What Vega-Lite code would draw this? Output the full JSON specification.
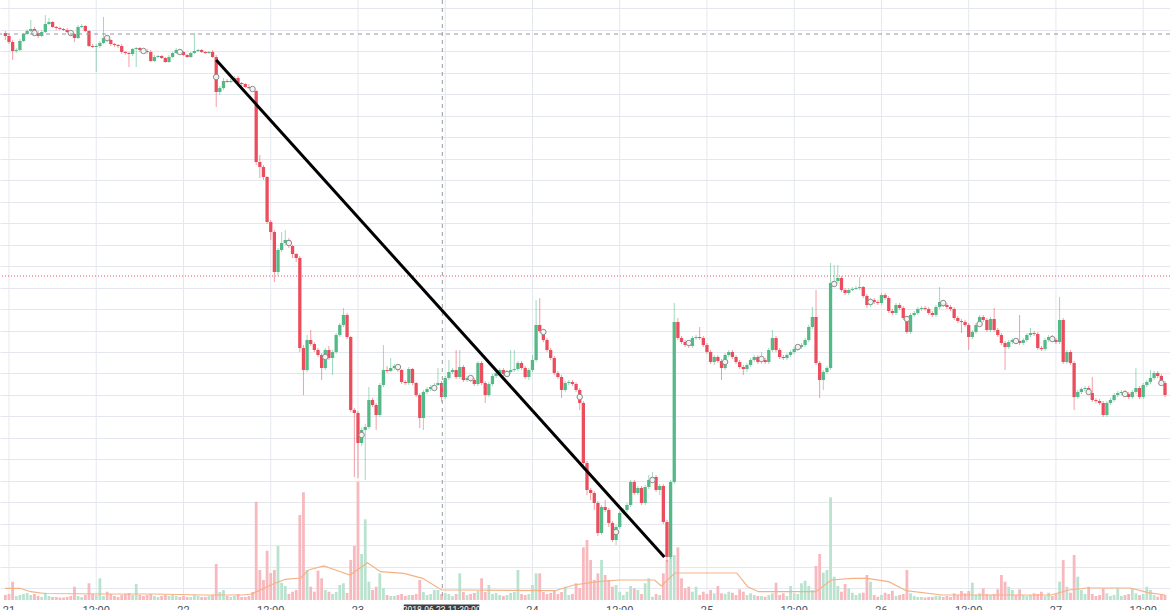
{
  "$schema": "https://vega.github.io/schema/vega-lite/v6.json",
  "width": 1170,
  "height": 600,
  "autosize": {"type": "none"},
  "padding": {"left": 0, "top": 0, "right": 0, "bottom": 10},
  "background": "#ffffff",
  "config": {"view": {"stroke": null}, "font": "Roboto"},
  "datasets": {
    "candles": [
      {"t":-0.5,"o":6934,"h":6938,"l":6920,"c":6928,"v":50},
      {"t":0,"o":6928,"h":6932,"l":6912,"c":6916,"v":60},
      {"t":0.5,"o":6916,"h":6920,"l":6880,"c":6898,"v":183},
      {"t":1,"o":6898,"h":6904,"l":6894,"c":6900,"v":40},
      {"t":1.5,"o":6900,"h":6922,"l":6898,"c":6918,"v":50},
      {"t":2,"o":6918,"h":6934,"l":6916,"c":6932,"v":60},
      {"t":2.5,"o":6932,"h":6942,"l":6930,"c":6938,"v":70},
      {"t":3,"o":6938,"h":6960,"l":6936,"c":6942,"v":50},
      {"t":3.5,"o":6942,"h":6946,"l":6930,"c":6934,"v":60},
      {"t":4,"o":6934,"h":6938,"l":6924,"c":6928,"v":40},
      {"t":4.5,"o":6928,"h":6940,"l":6926,"c":6936,"v":30},
      {"t":5,"o":6936,"h":6970,"l":6934,"c":6952,"v":73},
      {"t":5.5,"o":6952,"h":6964,"l":6950,"c":6956,"v":40},
      {"t":6,"o":6956,"h":6958,"l":6944,"c":6946,"v":30},
      {"t":6.5,"o":6946,"h":6948,"l":6940,"c":6944,"v":30},
      {"t":7,"o":6944,"h":6946,"l":6940,"c":6942,"v":25},
      {"t":7.5,"o":6942,"h":6944,"l":6938,"c":6940,"v":25},
      {"t":8,"o":6940,"h":6944,"l":6934,"c":6936,"v":30},
      {"t":8.5,"o":6936,"h":6938,"l":6928,"c":6932,"v":40},
      {"t":9,"o":6932,"h":6934,"l":6916,"c":6924,"v":133},
      {"t":9.5,"o":6924,"h":6950,"l":6922,"c":6946,"v":40},
      {"t":10,"o":6946,"h":6952,"l":6944,"c":6948,"v":30},
      {"t":10.5,"o":6948,"h":6950,"l":6936,"c":6938,"v":50},
      {"t":11,"o":6938,"h":6940,"l":6906,"c":6908,"v":167},
      {"t":11.5,"o":6908,"h":6912,"l":6904,"c":6906,"v":60},
      {"t":12,"o":6906,"h":6912,"l":6856,"c":6908,"v":50},
      {"t":12.5,"o":6908,"h":6918,"l":6904,"c":6914,"v":217},
      {"t":13,"o":6914,"h":6966,"l":6912,"c":6924,"v":40},
      {"t":13.5,"o":6924,"h":6928,"l":6916,"c":6920,"v":83},
      {"t":14,"o":6920,"h":6922,"l":6908,"c":6912,"v":60},
      {"t":14.5,"o":6912,"h":6914,"l":6906,"c":6910,"v":40},
      {"t":15,"o":6910,"h":6912,"l":6904,"c":6908,"v":30},
      {"t":15.5,"o":6908,"h":6912,"l":6892,"c":6896,"v":50},
      {"t":16,"o":6896,"h":6898,"l":6890,"c":6894,"v":60},
      {"t":16.5,"o":6894,"h":6896,"l":6866,"c":6892,"v":70},
      {"t":17,"o":6892,"h":6904,"l":6888,"c":6902,"v":50},
      {"t":17.5,"o":6902,"h":6906,"l":6866,"c":6904,"v":160},
      {"t":18,"o":6904,"h":6906,"l":6896,"c":6900,"v":50},
      {"t":18.5,"o":6900,"h":6902,"l":6896,"c":6898,"v":40},
      {"t":19,"o":6898,"h":6902,"l":6892,"c":6896,"v":50},
      {"t":19.5,"o":6896,"h":6900,"l":6876,"c":6878,"v":60},
      {"t":20,"o":6878,"h":6890,"l":6876,"c":6886,"v":40},
      {"t":20.5,"o":6886,"h":6890,"l":6884,"c":6888,"v":30},
      {"t":21,"o":6888,"h":6890,"l":6882,"c":6884,"v":40},
      {"t":21.5,"o":6884,"h":6886,"l":6874,"c":6876,"v":50},
      {"t":22,"o":6876,"h":6890,"l":6874,"c":6886,"v":40},
      {"t":22.5,"o":6886,"h":6896,"l":6884,"c":6894,"v":50},
      {"t":23,"o":6894,"h":6904,"l":6892,"c":6900,"v":40},
      {"t":23.5,"o":6900,"h":6902,"l":6894,"c":6896,"v":30},
      {"t":24,"o":6896,"h":6898,"l":6888,"c":6890,"v":40},
      {"t":24.5,"o":6890,"h":6892,"l":6884,"c":6886,"v":30},
      {"t":25,"o":6886,"h":6896,"l":6884,"c":6894,"v":30},
      {"t":25.5,"o":6894,"h":6934,"l":6892,"c":6898,"v":50},
      {"t":26,"o":6898,"h":6902,"l":6896,"c":6900,"v":40},
      {"t":26.5,"o":6900,"h":6902,"l":6894,"c":6896,"v":30},
      {"t":27,"o":6896,"h":6898,"l":6892,"c":6894,"v":30},
      {"t":27.5,"o":6894,"h":6898,"l":6892,"c":6896,"v":40},
      {"t":28,"o":6896,"h":6900,"l":6884,"c":6886,"v":50},
      {"t":28.5,"o":6886,"h":6890,"l":6786,"c":6816,"v":360},
      {"t":29,"o":6816,"h":6828,"l":6810,"c":6824,"v":80},
      {"t":29.5,"o":6824,"h":6844,"l":6820,"c":6838,"v":100},
      {"t":30,"o":6838,"h":6842,"l":6834,"c":6836,"v":40},
      {"t":30.5,"o":6836,"h":6842,"l":6834,"c":6838,"v":30},
      {"t":31,"o":6838,"h":6848,"l":6836,"c":6844,"v":40},
      {"t":31.5,"o":6844,"h":6848,"l":6832,"c":6834,"v":60},
      {"t":32,"o":6834,"h":6836,"l":6828,"c":6832,"v":30},
      {"t":32.5,"o":6832,"h":6834,"l":6824,"c":6826,"v":30},
      {"t":33,"o":6826,"h":6832,"l":6822,"c":6824,"v":40},
      {"t":33.5,"o":6824,"h":6826,"l":6816,"c":6818,"v":80},
      {"t":34,"o":6818,"h":6820,"l":6670,"c":6676,"v":983},
      {"t":34.5,"o":6676,"h":6690,"l":6644,"c":6666,"v":300},
      {"t":35,"o":6666,"h":6670,"l":6640,"c":6646,"v":200},
      {"t":35.5,"o":6646,"h":6648,"l":6552,"c":6556,"v":493},
      {"t":36,"o":6556,"h":6560,"l":6520,"c":6536,"v":270},
      {"t":36.5,"o":6536,"h":6540,"l":6436,"c":6456,"v":300},
      {"t":37,"o":6456,"h":6504,"l":6448,"c":6500,"v":540},
      {"t":37.5,"o":6500,"h":6536,"l":6496,"c":6514,"v":173},
      {"t":38,"o":6514,"h":6540,"l":6510,"c":6520,"v":140},
      {"t":38.5,"o":6520,"h":6524,"l":6504,"c":6508,"v":60},
      {"t":39,"o":6508,"h":6510,"l":6484,"c":6492,"v":83},
      {"t":39.5,"o":6492,"h":6494,"l":6476,"c":6484,"v":100},
      {"t":40,"o":6484,"h":6488,"l":6296,"c":6304,"v":850},
      {"t":40.5,"o":6304,"h":6310,"l":6210,"c":6260,"v":1077},
      {"t":41,"o":6260,"h":6330,"l":6256,"c":6320,"v":300},
      {"t":41.5,"o":6320,"h":6340,"l":6308,"c":6312,"v":133},
      {"t":42,"o":6312,"h":6316,"l":6296,"c":6300,"v":83},
      {"t":42.5,"o":6300,"h":6304,"l":6286,"c":6290,"v":293},
      {"t":43,"o":6290,"h":6294,"l":6240,"c":6264,"v":217},
      {"t":43.5,"o":6264,"h":6304,"l":6260,"c":6300,"v":100},
      {"t":44,"o":6300,"h":6308,"l":6280,"c":6284,"v":83},
      {"t":44.5,"o":6284,"h":6300,"l":6250,"c":6296,"v":60},
      {"t":45,"o":6296,"h":6334,"l":6292,"c":6330,"v":80},
      {"t":45.5,"o":6330,"h":6354,"l":6326,"c":6350,"v":150},
      {"t":46,"o":6350,"h":6384,"l":6346,"c":6370,"v":167},
      {"t":46.5,"o":6370,"h":6374,"l":6322,"c":6326,"v":70},
      {"t":47,"o":6326,"h":6328,"l":6176,"c":6180,"v":400},
      {"t":47.5,"o":6180,"h":6184,"l":6046,"c":6174,"v":540},
      {"t":48,"o":6174,"h":6178,"l":6044,"c":6114,"v":1183},
      {"t":48.5,"o":6114,"h":6144,"l":6108,"c":6140,"v":460},
      {"t":49,"o":6140,"h":6152,"l":6040,"c":6146,"v":807},
      {"t":49.5,"o":6146,"h":6226,"l":6142,"c":6200,"v":183},
      {"t":50,"o":6200,"h":6204,"l":6186,"c":6190,"v":100},
      {"t":50.5,"o":6190,"h":6194,"l":6140,"c":6170,"v":133},
      {"t":51,"o":6170,"h":6234,"l":6166,"c":6230,"v":267},
      {"t":51.5,"o":6230,"h":6310,"l":6226,"c":6260,"v":120},
      {"t":52,"o":6260,"h":6268,"l":6254,"c":6258,"v":50},
      {"t":52.5,"o":6258,"h":6284,"l":6256,"c":6264,"v":40},
      {"t":53,"o":6264,"h":6272,"l":6260,"c":6268,"v":40},
      {"t":53.5,"o":6268,"h":6272,"l":6256,"c":6260,"v":50},
      {"t":54,"o":6260,"h":6262,"l":6232,"c":6236,"v":60},
      {"t":54.5,"o":6236,"h":6240,"l":6230,"c":6234,"v":40},
      {"t":55,"o":6234,"h":6266,"l":6230,"c":6262,"v":50},
      {"t":55.5,"o":6262,"h":6264,"l":6230,"c":6234,"v":50},
      {"t":56,"o":6234,"h":6236,"l":6206,"c":6210,"v":60},
      {"t":56.5,"o":6210,"h":6214,"l":6144,"c":6164,"v":200},
      {"t":57,"o":6164,"h":6220,"l":6140,"c":6216,"v":80},
      {"t":57.5,"o":6216,"h":6226,"l":6212,"c":6222,"v":50},
      {"t":58,"o":6222,"h":6230,"l":6218,"c":6226,"v":60},
      {"t":58.5,"o":6226,"h":6234,"l":6222,"c":6230,"v":100},
      {"t":59,"o":6230,"h":6264,"l":6228,"c":6234,"v":100},
      {"t":59.5,"o":6234,"h":6238,"l":6196,"c":6206,"v":60},
      {"t":60,"o":6206,"h":6248,"l":6202,"c":6244,"v":70},
      {"t":60.5,"o":6244,"h":6280,"l":6240,"c":6256,"v":60},
      {"t":61,"o":6256,"h":6264,"l":6252,"c":6260,"v":40},
      {"t":61.5,"o":6260,"h":6300,"l":6242,"c":6246,"v":60},
      {"t":62,"o":6246,"h":6300,"l":6242,"c":6266,"v":267},
      {"t":62.5,"o":6266,"h":6270,"l":6236,"c":6240,"v":80},
      {"t":63,"o":6240,"h":6248,"l":6236,"c":6244,"v":50},
      {"t":63.5,"o":6244,"h":6248,"l":6236,"c":6240,"v":60},
      {"t":64,"o":6240,"h":6244,"l":6228,"c":6232,"v":70},
      {"t":64.5,"o":6232,"h":6278,"l":6228,"c":6274,"v":90},
      {"t":65,"o":6274,"h":6278,"l":6230,"c":6234,"v":217},
      {"t":65.5,"o":6234,"h":6238,"l":6194,"c":6210,"v":80},
      {"t":66,"o":6210,"h":6236,"l":6206,"c":6232,"v":150},
      {"t":66.5,"o":6232,"h":6252,"l":6228,"c":6248,"v":60},
      {"t":67,"o":6248,"h":6258,"l":6244,"c":6254,"v":70},
      {"t":67.5,"o":6254,"h":6264,"l":6250,"c":6260,"v":50},
      {"t":68,"o":6260,"h":6264,"l":6248,"c":6252,"v":40},
      {"t":68.5,"o":6252,"h":6260,"l":6248,"c":6256,"v":50},
      {"t":69,"o":6256,"h":6300,"l":6252,"c":6260,"v":70},
      {"t":69.5,"o":6260,"h":6300,"l":6256,"c":6262,"v":80},
      {"t":70,"o":6262,"h":6278,"l":6258,"c":6274,"v":300},
      {"t":70.5,"o":6274,"h":6278,"l":6260,"c":6264,"v":60},
      {"t":71,"o":6264,"h":6268,"l":6242,"c":6246,"v":50},
      {"t":71.5,"o":6246,"h":6264,"l":6240,"c":6260,"v":60},
      {"t":72,"o":6260,"h":6290,"l":6256,"c":6280,"v":150},
      {"t":72.5,"o":6280,"h":6400,"l":6276,"c":6350,"v":267},
      {"t":73,"o":6350,"h":6404,"l":6334,"c":6338,"v":267},
      {"t":73.5,"o":6338,"h":6342,"l":6316,"c":6320,"v":80},
      {"t":74,"o":6320,"h":6324,"l":6296,"c":6300,"v":60},
      {"t":74.5,"o":6300,"h":6304,"l":6280,"c":6284,"v":70},
      {"t":75,"o":6284,"h":6288,"l":6250,"c":6254,"v":90},
      {"t":75.5,"o":6254,"h":6258,"l":6242,"c":6246,"v":60},
      {"t":76,"o":6246,"h":6250,"l":6204,"c":6220,"v":80},
      {"t":76.5,"o":6220,"h":6238,"l":6216,"c":6234,"v":133},
      {"t":77,"o":6234,"h":6240,"l":6230,"c":6236,"v":50},
      {"t":77.5,"o":6236,"h":6240,"l":6228,"c":6232,"v":60},
      {"t":78,"o":6232,"h":6236,"l":6216,"c":6220,"v":167},
      {"t":78.5,"o":6220,"h":6224,"l":6180,"c":6194,"v":120},
      {"t":79,"o":6194,"h":6198,"l":6060,"c":6074,"v":527},
      {"t":79.5,"o":6074,"h":6078,"l":6010,"c":6020,"v":600},
      {"t":80,"o":6020,"h":6024,"l":6000,"c":6014,"v":400},
      {"t":80.5,"o":6014,"h":6018,"l":5980,"c":5994,"v":200},
      {"t":81,"o":5994,"h":5998,"l":5928,"c":5934,"v":267},
      {"t":81.5,"o":5934,"h":5990,"l":5930,"c":5986,"v":400},
      {"t":82,"o":5986,"h":6000,"l":5976,"c":5980,"v":250},
      {"t":82.5,"o":5980,"h":5984,"l":5946,"c":5954,"v":200},
      {"t":83,"o":5954,"h":5958,"l":5916,"c":5920,"v":133},
      {"t":83.5,"o":5920,"h":5950,"l":5910,"c":5946,"v":150},
      {"t":84,"o":5946,"h":5978,"l":5942,"c":5974,"v":83},
      {"t":84.5,"o":5974,"h":5984,"l":5970,"c":5980,"v":50},
      {"t":85,"o":5980,"h":5994,"l":5976,"c":5990,"v":83},
      {"t":85.5,"o":5990,"h":6040,"l":5986,"c":6036,"v":140},
      {"t":86,"o":6036,"h":6040,"l":6010,"c":6014,"v":117},
      {"t":86.5,"o":6014,"h":6028,"l":6010,"c":6024,"v":100},
      {"t":87,"o":6024,"h":6028,"l":5990,"c":5994,"v":60},
      {"t":87.5,"o":5994,"h":6030,"l":5990,"c":6026,"v":167},
      {"t":88,"o":6026,"h":6050,"l":6022,"c":6040,"v":217},
      {"t":88.5,"o":6040,"h":6056,"l":6036,"c":6046,"v":33},
      {"t":89,"o":6046,"h":6050,"l":6016,"c":6020,"v":60},
      {"t":89.5,"o":6020,"h":6032,"l":6010,"c":6028,"v":50},
      {"t":90,"o":6028,"h":6032,"l":5952,"c":5956,"v":267},
      {"t":90.5,"o":5956,"h":5960,"l":5876,"c":5886,"v":400},
      {"t":91,"o":5886,"h":6040,"l":5882,"c":6036,"v":500},
      {"t":91.5,"o":6036,"h":6394,"l":6032,"c":6356,"v":450},
      {"t":92,"o":6356,"h":6364,"l":6320,"c":6324,"v":527},
      {"t":92.5,"o":6324,"h":6328,"l":6312,"c":6316,"v":217},
      {"t":93,"o":6316,"h":6320,"l":6306,"c":6310,"v":117},
      {"t":93.5,"o":6310,"h":6318,"l":6304,"c":6308,"v":133},
      {"t":94,"o":6308,"h":6328,"l":6304,"c":6324,"v":83},
      {"t":94.5,"o":6324,"h":6330,"l":6320,"c":6326,"v":133},
      {"t":95,"o":6326,"h":6346,"l":6320,"c":6324,"v":50},
      {"t":95.5,"o":6324,"h":6328,"l":6306,"c":6310,"v":83},
      {"t":96,"o":6310,"h":6314,"l":6292,"c":6296,"v":60},
      {"t":96.5,"o":6296,"h":6300,"l":6272,"c":6276,"v":100},
      {"t":97,"o":6276,"h":6290,"l":6270,"c":6286,"v":67},
      {"t":97.5,"o":6286,"h":6290,"l":6274,"c":6278,"v":140},
      {"t":98,"o":6278,"h":6282,"l":6240,"c":6264,"v":67},
      {"t":98.5,"o":6264,"h":6294,"l":6260,"c":6290,"v":60},
      {"t":99,"o":6290,"h":6300,"l":6286,"c":6296,"v":83},
      {"t":99.5,"o":6296,"h":6300,"l":6282,"c":6286,"v":73},
      {"t":100,"o":6286,"h":6290,"l":6272,"c":6276,"v":50},
      {"t":100.5,"o":6276,"h":6280,"l":6262,"c":6266,"v":107},
      {"t":101,"o":6266,"h":6270,"l":6250,"c":6262,"v":83},
      {"t":101.5,"o":6262,"h":6274,"l":6256,"c":6270,"v":50},
      {"t":102,"o":6270,"h":6284,"l":6266,"c":6280,"v":67},
      {"t":102.5,"o":6280,"h":6290,"l":6276,"c":6286,"v":50},
      {"t":103,"o":6286,"h":6290,"l":6272,"c":6276,"v":40},
      {"t":103.5,"o":6276,"h":6296,"l":6272,"c":6280,"v":40},
      {"t":104,"o":6280,"h":6284,"l":6272,"c":6276,"v":33},
      {"t":104.5,"o":6276,"h":6304,"l":6272,"c":6300,"v":50},
      {"t":105,"o":6300,"h":6340,"l":6296,"c":6324,"v":67},
      {"t":105.5,"o":6324,"h":6328,"l":6296,"c":6300,"v":173},
      {"t":106,"o":6300,"h":6304,"l":6282,"c":6286,"v":50},
      {"t":106.5,"o":6286,"h":6290,"l":6280,"c":6284,"v":67},
      {"t":107,"o":6284,"h":6294,"l":6280,"c":6290,"v":40},
      {"t":107.5,"o":6290,"h":6300,"l":6286,"c":6296,"v":140},
      {"t":108,"o":6296,"h":6306,"l":6292,"c":6302,"v":67},
      {"t":108.5,"o":6302,"h":6310,"l":6298,"c":6306,"v":60},
      {"t":109,"o":6306,"h":6314,"l":6302,"c":6310,"v":167},
      {"t":109.5,"o":6310,"h":6324,"l":6306,"c":6320,"v":193},
      {"t":110,"o":6320,"h":6350,"l":6316,"c":6346,"v":140},
      {"t":110.5,"o":6346,"h":6386,"l":6342,"c":6366,"v":100},
      {"t":111,"o":6366,"h":6420,"l":6270,"c":6274,"v":340},
      {"t":111.5,"o":6274,"h":6278,"l":6204,"c":6240,"v":460},
      {"t":112,"o":6240,"h":6260,"l":6220,"c":6256,"v":273},
      {"t":112.5,"o":6256,"h":6268,"l":6252,"c":6264,"v":300},
      {"t":113,"o":6264,"h":6474,"l":6260,"c":6434,"v":1027},
      {"t":113.5,"o":6434,"h":6470,"l":6428,"c":6438,"v":233},
      {"t":114,"o":6438,"h":6470,"l":6434,"c":6444,"v":140},
      {"t":114.5,"o":6444,"h":6448,"l":6416,"c":6420,"v":83},
      {"t":115,"o":6420,"h":6424,"l":6410,"c":6414,"v":160},
      {"t":115.5,"o":6414,"h":6424,"l":6410,"c":6420,"v":117},
      {"t":116,"o":6420,"h":6426,"l":6418,"c":6422,"v":73},
      {"t":116.5,"o":6422,"h":6428,"l":6420,"c":6424,"v":50},
      {"t":117,"o":6424,"h":6446,"l":6420,"c":6426,"v":67},
      {"t":117.5,"o":6426,"h":6428,"l":6404,"c":6408,"v":73},
      {"t":118,"o":6408,"h":6412,"l":6384,"c":6390,"v":250},
      {"t":118.5,"o":6390,"h":6404,"l":6386,"c":6400,"v":183},
      {"t":119,"o":6400,"h":6404,"l":6392,"c":6396,"v":50},
      {"t":119.5,"o":6396,"h":6400,"l":6390,"c":6394,"v":33},
      {"t":120,"o":6394,"h":6414,"l":6390,"c":6410,"v":50},
      {"t":120.5,"o":6410,"h":6414,"l":6400,"c":6404,"v":73},
      {"t":121,"o":6404,"h":6408,"l":6374,"c":6378,"v":60},
      {"t":121.5,"o":6378,"h":6382,"l":6370,"c":6374,"v":93},
      {"t":122,"o":6374,"h":6394,"l":6370,"c":6390,"v":40},
      {"t":122.5,"o":6390,"h":6394,"l":6380,"c":6384,"v":50},
      {"t":123,"o":6384,"h":6388,"l":6360,"c":6364,"v":60},
      {"t":123.5,"o":6364,"h":6368,"l":6332,"c":6336,"v":300},
      {"t":124,"o":6336,"h":6374,"l":6332,"c":6370,"v":67},
      {"t":124.5,"o":6370,"h":6378,"l":6366,"c":6374,"v":40},
      {"t":125,"o":6374,"h":6386,"l":6370,"c":6382,"v":30},
      {"t":125.5,"o":6382,"h":6388,"l":6378,"c":6384,"v":30},
      {"t":126,"o":6384,"h":6388,"l":6378,"c":6382,"v":25},
      {"t":126.5,"o":6382,"h":6386,"l":6370,"c":6374,"v":30},
      {"t":127,"o":6374,"h":6378,"l":6366,"c":6370,"v":30},
      {"t":127.5,"o":6370,"h":6390,"l":6366,"c":6386,"v":40},
      {"t":128,"o":6386,"h":6426,"l":6382,"c":6396,"v":40},
      {"t":128.5,"o":6396,"h":6400,"l":6386,"c":6390,"v":30},
      {"t":129,"o":6390,"h":6394,"l":6382,"c":6386,"v":40},
      {"t":129.5,"o":6386,"h":6390,"l":6378,"c":6382,"v":30},
      {"t":130,"o":6382,"h":6386,"l":6360,"c":6364,"v":67},
      {"t":130.5,"o":6364,"h":6368,"l":6354,"c":6358,"v":50},
      {"t":131,"o":6358,"h":6362,"l":6334,"c":6356,"v":90},
      {"t":131.5,"o":6356,"h":6360,"l":6346,"c":6350,"v":67},
      {"t":132,"o":6350,"h":6354,"l":6300,"c":6326,"v":90},
      {"t":132.5,"o":6326,"h":6340,"l":6322,"c":6336,"v":173},
      {"t":133,"o":6336,"h":6354,"l":6332,"c":6350,"v":50},
      {"t":133.5,"o":6350,"h":6370,"l":6346,"c":6366,"v":67},
      {"t":134,"o":6366,"h":6370,"l":6356,"c":6360,"v":117},
      {"t":134.5,"o":6360,"h":6364,"l":6336,"c":6340,"v":60},
      {"t":135,"o":6340,"h":6366,"l":6336,"c":6362,"v":50},
      {"t":135.5,"o":6362,"h":6384,"l":6336,"c":6340,"v":60},
      {"t":136,"o":6340,"h":6344,"l":6326,"c":6330,"v":107},
      {"t":136.5,"o":6330,"h":6334,"l":6310,"c":6314,"v":250},
      {"t":137,"o":6314,"h":6318,"l":6260,"c":6306,"v":183},
      {"t":137.5,"o":6306,"h":6320,"l":6302,"c":6316,"v":133},
      {"t":138,"o":6316,"h":6324,"l":6312,"c":6320,"v":100},
      {"t":138.5,"o":6320,"h":6324,"l":6314,"c":6318,"v":50},
      {"t":139,"o":6318,"h":6370,"l":6310,"c":6314,"v":107},
      {"t":139.5,"o":6314,"h":6324,"l":6310,"c":6320,"v":50},
      {"t":140,"o":6320,"h":6334,"l":6316,"c":6330,"v":40},
      {"t":140.5,"o":6330,"h":6344,"l":6326,"c":6334,"v":50},
      {"t":141,"o":6334,"h":6338,"l":6328,"c":6332,"v":67},
      {"t":141.5,"o":6332,"h":6336,"l":6300,"c":6304,"v":60},
      {"t":142,"o":6304,"h":6308,"l":6298,"c":6302,"v":83},
      {"t":142.5,"o":6302,"h":6324,"l":6298,"c":6320,"v":40},
      {"t":143,"o":6320,"h":6330,"l":6316,"c":6326,"v":73},
      {"t":143.5,"o":6326,"h":6330,"l":6316,"c":6320,"v":40},
      {"t":144,"o":6320,"h":6324,"l":6312,"c":6316,"v":60},
      {"t":144.5,"o":6316,"h":6406,"l":6312,"c":6360,"v":183},
      {"t":145,"o":6360,"h":6364,"l":6272,"c":6276,"v":400},
      {"t":145.5,"o":6276,"h":6300,"l":6272,"c":6296,"v":133},
      {"t":146,"o":6296,"h":6300,"l":6270,"c":6274,"v":73},
      {"t":146.5,"o":6274,"h":6278,"l":6180,"c":6206,"v":450},
      {"t":147,"o":6206,"h":6220,"l":6202,"c":6216,"v":233},
      {"t":147.5,"o":6216,"h":6226,"l":6212,"c":6222,"v":100},
      {"t":148,"o":6222,"h":6228,"l":6218,"c":6224,"v":60},
      {"t":148.5,"o":6224,"h":6228,"l":6210,"c":6214,"v":133},
      {"t":149,"o":6214,"h":6246,"l":6196,"c":6200,"v":60},
      {"t":149.5,"o":6200,"h":6204,"l":6194,"c":6198,"v":40},
      {"t":150,"o":6198,"h":6202,"l":6190,"c":6194,"v":50},
      {"t":150.5,"o":6194,"h":6198,"l":6166,"c":6170,"v":117},
      {"t":151,"o":6170,"h":6198,"l":6166,"c":6194,"v":67},
      {"t":151.5,"o":6194,"h":6204,"l":6190,"c":6200,"v":40},
      {"t":152,"o":6200,"h":6214,"l":6196,"c":6210,"v":50},
      {"t":152.5,"o":6210,"h":6218,"l":6206,"c":6214,"v":117},
      {"t":153,"o":6214,"h":6220,"l":6210,"c":6216,"v":40},
      {"t":153.5,"o":6216,"h":6220,"l":6208,"c":6212,"v":50},
      {"t":154,"o":6212,"h":6216,"l":6202,"c":6206,"v":60},
      {"t":154.5,"o":6206,"h":6220,"l":6202,"c":6216,"v":117},
      {"t":155,"o":6216,"h":6264,"l":6212,"c":6224,"v":67},
      {"t":155.5,"o":6224,"h":6228,"l":6202,"c":6206,"v":50},
      {"t":156,"o":6206,"h":6234,"l":6202,"c":6230,"v":60},
      {"t":156.5,"o":6230,"h":6240,"l":6226,"c":6236,"v":133},
      {"t":157,"o":6236,"h":6260,"l":6232,"c":6244,"v":100},
      {"t":157.5,"o":6244,"h":6258,"l":6240,"c":6254,"v":50},
      {"t":158,"o":6254,"h":6258,"l":6244,"c":6248,"v":33},
      {"t":158.5,"o":6248,"h":6252,"l":6230,"c":6234,"v":60},
      {"t":159,"o":6234,"h":6238,"l":6206,"c":6210,"v":50}
    ],
    "vma": [
      {"t":-0.55,"m":117},{"t":1.5,"m":117},{"t":3,"m":83},{"t":4.9,"m":65},{"t":13.1,"m":60},{"t":19.9,"m":60},{"t":26.7,"m":50},{"t":32.2,"m":50},{"t":33.4,"m":60},{"t":36,"m":150},{"t":38,"m":207},{"t":40.1,"m":220},{"t":41.2,"m":300},{"t":43.3,"m":340},{"t":44.9,"m":300},{"t":46.9,"m":250},{"t":49.3,"m":373},{"t":51.1,"m":283},{"t":54.3,"m":267},{"t":56.9,"m":217},{"t":59.5,"m":100},{"t":62.2,"m":100},{"t":75.1,"m":93},{"t":77.7,"m":150},{"t":80.9,"m":183},{"t":84,"m":200},{"t":88.8,"m":200},{"t":89.7,"m":140},{"t":91.6,"m":270},{"t":100.1,"m":270},{"t":101.6,"m":133},{"t":103.1,"m":83},{"t":111,"m":83},{"t":113.1,"m":200},{"t":116,"m":217},{"t":118,"m":217},{"t":121,"m":183},{"t":123.4,"m":93},{"t":128.3,"m":50},{"t":143.3,"m":50},{"t":145.8,"m":100},{"t":148.2,"m":120},{"t":154.2,"m":120},{"t":156.7,"m":73},{"t":159,"m":50}
    ],
    "markers": [
      {"t":3.5,"p":6934},{"t":8.5,"p":6934},{"t":13.5,"p":6924},{"t":18.5,"p":6898},{"t":23.5,"p":6896},{"t":28.5,"p":6846},{"t":33.5,"p":6822},{"t":38.5,"p":6514},{"t":43.5,"p":6286},{"t":48.5,"p":6130},{"t":53.5,"p":6266},{"t":58.5,"p":6224},{"t":63.5,"p":6244},{"t":68.5,"p":6252},{"t":73.5,"p":6336},{"t":78.5,"p":6206},{"t":83.5,"p":5936},{"t":88.5,"p":6040},{"t":93.5,"p":6314},{"t":98.5,"p":6276},{"t":103.5,"p":6282},{"t":108.5,"p":6306},{"t":113.5,"p":6432},{"t":118.5,"p":6396},{"t":123.5,"p":6362},{"t":128.5,"p":6394},{"t":133.5,"p":6352},{"t":138.5,"p":6318},{"t":143.5,"p":6322},{"t":148.5,"p":6216},{"t":153.5,"p":6212},{"t":158.5,"p":6234}
    ],
    "trend": [{"t":28.5,"p":6880},{"t":90.14,"p":5886}],
    "ticks": [
      {"t":0,"lab":"21","p":5790},{"t":12,"lab":"12:00","p":5790},{"t":24,"lab":"22","p":5790},{"t":36,"lab":"12:00","p":5790},{"t":48,"lab":"23","p":5790},{"t":60,"lab":"","p":5790},{"t":72,"lab":"24","p":5790},{"t":84,"lab":"12:00","p":5790},{"t":96,"lab":"25","p":5790},{"t":108,"lab":"12:00","p":5790},{"t":120,"lab":"26","p":5790},{"t":132,"lab":"12:00","p":5790},{"t":144,"lab":"27","p":5790},{"t":156,"lab":"12:00","p":5790}
    ]
  },
  "layer": [
    {
      "data": {"name": "ticks"},
      "mark": {"type": "rule", "color": "#e4e8ee", "strokeWidth": 1},
      "encoding": {
        "x": {"field": "t", "type": "quantitative", "scale": {"domain": [-0.55, 159], "nice": false, "zero": false}, "axis": null}
      }
    },
    {
      "data": {"name": "candles"},
      "mark": {"type": "bar", "size": 2.8},
      "encoding": {
        "x": {"field": "t", "type": "quantitative", "axis": null},
        "y": {"field": "v", "type": "quantitative", "scale": {"domain": [0, 6000], "nice": false, "zero": true}, "axis": null},
        "color": {"condition": {"test": "datum.c >= datum.o", "value": "#bae3cf"}, "value": "#f7b8be"}
      }
    },
    {
      "data": {"name": "vma"},
      "mark": {"type": "line", "color": "#f5b184", "strokeWidth": 1.2},
      "encoding": {
        "x": {"field": "t", "type": "quantitative", "axis": null},
        "y": {"field": "m", "type": "quantitative", "scale": {"domain": [0, 6000], "nice": false, "zero": true}, "axis": null}
      }
    },
    {
      "data": {"name": "candles"},
      "mark": {"type": "rule", "strokeWidth": 1, "opacity": 0.55},
      "encoding": {
        "x": {"field": "t", "type": "quantitative", "axis": null},
        "y": {"field": "l", "type": "quantitative", "scale": {"domain": [5800, 7000], "nice": false, "zero": false},
          "axis": {"values": [6983.4,6940.44,6897.48,6854.52,6811.56,6768.6,6725.64,6682.68,6639.72,6596.76,6553.8,6510.84,6467.88,6424.92,6381.96,6339,6296.04,6253.08,6210.12,6167.16,6124.2,6081.24,6038.28,5995.32,5952.36,5909.4,5866.44,5823.48], "grid": true, "gridColor": "#e4e8ee", "labels": false, "ticks": false, "tickSize": 0, "domain": false, "title": null}},
        "y2": {"field": "h"},
        "color": {"condition": {"test": "datum.c >= datum.o", "value": "#53b987"}, "value": "#eb4d5c"}
      }
    },
    {
      "data": {"name": "candles"},
      "mark": {"type": "bar", "size": 3.3},
      "encoding": {
        "x": {"field": "t", "type": "quantitative", "axis": null},
        "y": {"field": "o", "type": "quantitative", "scale": {"domain": [5800, 7000], "nice": false, "zero": false}, "axis": null},
        "y2": {"field": "c"},
        "color": {"condition": {"test": "datum.c >= datum.o", "value": "#53b987"}, "value": "#eb4d5c"}
      }
    },
    {
      "data": {"name": "markers"},
      "mark": {"type": "point", "shape": "circle", "size": 30, "filled": true, "fill": "#f3f3f3", "stroke": "#8d8d8d", "strokeWidth": 1, "opacity": 1},
      "encoding": {
        "x": {"field": "t", "type": "quantitative", "axis": null},
        "y": {"field": "p", "type": "quantitative", "scale": {"domain": [5800, 7000], "nice": false, "zero": false}, "axis": null}
      }
    },
    {
      "data": {"values": [{"p": 6448}]},
      "mark": {"type": "rule", "color": "#e0505e", "strokeWidth": 1, "strokeDash": [1, 2]},
      "encoding": {"y": {"field": "p", "type": "quantitative", "scale": {"domain": [5800, 7000], "nice": false, "zero": false}, "axis": null}}
    },
    {
      "data": {"values": [{"p": 6932}]},
      "mark": {"type": "rule", "color": "#9598a1", "strokeWidth": 1, "strokeDash": [4, 4]},
      "encoding": {"y": {"field": "p", "type": "quantitative", "scale": {"domain": [5800, 7000], "nice": false, "zero": false}, "axis": null}}
    },
    {
      "data": {"values": [{"t": 59.6}]},
      "mark": {"type": "rule", "color": "#9598a1", "strokeWidth": 1, "strokeDash": [4, 4]},
      "encoding": {"x": {"field": "t", "type": "quantitative", "axis": null}}
    },
    {
      "data": {"name": "trend"},
      "mark": {"type": "line", "color": "#000000", "strokeWidth": 3},
      "encoding": {
        "x": {"field": "t", "type": "quantitative", "axis": null},
        "y": {"field": "p", "type": "quantitative", "scale": {"domain": [5800, 7000], "nice": false, "zero": false}, "axis": null}
      }
    },
    {
      "data": {"name": "ticks"},
      "mark": {"type": "text", "color": "#4a4f5c", "fontSize": 11, "baseline": "top", "align": "center"},
      "encoding": {
        "x": {"field": "t", "type": "quantitative", "axis": null},
        "y": {"field": "p", "type": "quantitative", "scale": {"domain": [5800, 7000], "nice": false, "zero": false}, "axis": null},
        "text": {"field": "lab"}
      }
    },
    {
      "data": {"values": [{"t": 54.3, "t2": 64.7, "p": 5791, "p2": 5776}]},
      "mark": {"type": "rect", "color": "#3c3f47"},
      "encoding": {
        "x": {"field": "t", "type": "quantitative", "axis": null},
        "x2": {"field": "t2"},
        "y": {"field": "p", "type": "quantitative", "scale": {"domain": [5800, 7000], "nice": false, "zero": false}, "axis": null},
        "y2": {"field": "p2"}
      }
    },
    {
      "data": {"values": [{"t": 59.5, "p": 5788, "label": "2018-06-23 11:30:00"}]},
      "mark": {"type": "text", "color": "#ffffff", "fontSize": 8.5, "baseline": "top", "align": "center"},
      "encoding": {
        "x": {"field": "t", "type": "quantitative", "axis": null},
        "y": {"field": "p", "type": "quantitative", "scale": {"domain": [5800, 7000], "nice": false, "zero": false}, "axis": null},
        "text": {"field": "label"}
      }
    }
  ],
  "resolve": {"scale": {"y": "independent"}}
}
